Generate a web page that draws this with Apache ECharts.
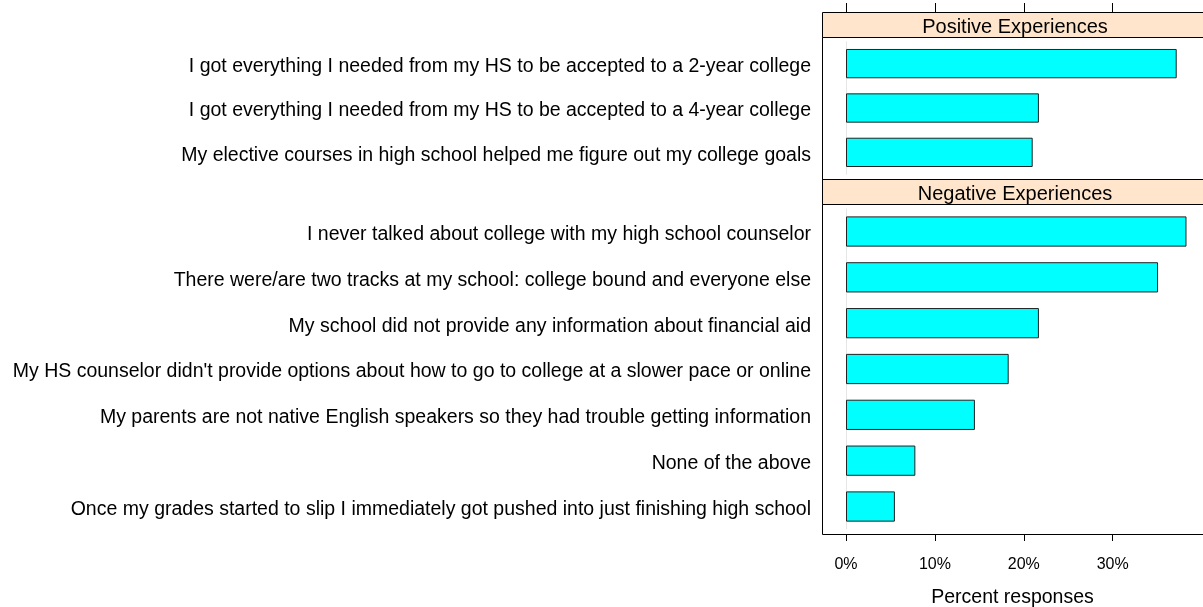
<!DOCTYPE html>
<html>
<head>
<meta charset="utf-8">
<script src="https://cdn.jsdelivr.net/npm/echarts@6/dist/echarts.min.js"></script>
<style>
html,body{margin:0;padding:0;background:#fff;}
#main{width:1203px;height:607px;}
</style>
</head>
<body>
<div id="main"></div>
<script>
// data
var posCats = [
	'I got everything I needed from my HS to be accepted to a 2-year college',
	'I got everything I needed from my HS to be accepted to a 4-year college',
	'My elective courses in high school helped me figure out my college goals'
];
var posVals = [37.2, 21.7, 21.0];
var negCats = [
	'I never talked about college with my high school counselor',
	'There were/are two tracks at my school: college bound and everyone else',
	'My school did not provide any information about financial aid',
	"My HS counselor didn't provide options about how to go to college at a slower pace or online",
	'My parents are not native English speakers so they had trouble getting information',
	'None of the above',
	'Once my grades started to slip I immediately got pushed into just finishing high school'
];
var negVals = [38.3, 35.1, 21.7, 18.3, 14.5, 7.8, 5.5];
var xTicks = [0, 10, 20, 30];
var stripNames = ['Positive Experiences', 'Negative Experiences'];

// layout (lattice style panels, right side cut off by the picture edge)
var panelL = 822, panelR = 1208, gridR = 1203;
var pxPer = 8.89;
var xMin = -2.7, xMax = xMin + (gridR - panelL) / pxPer;
var p1 = {top: 37, bot: 179}, s1 = {top: 12, bot: 37};
var p2 = {top: 204, bot: 534}, s2 = {top: 179, bot: 204};
// lattice puts factor levels at 1..n with limits 0.4 .. n+0.6
function inner(p, n){
	var u = (p.bot - p.top) / (n + 0.2);
	return {top: p.top + 0.1 * u, height: n * u};
}
var g1 = inner(p1, posCats.length);
var g2 = inner(p2, negCats.length);

var font = 'Liberation Sans, Arial, sans-serif';
var myChart = echarts.init(document.getElementById('main'));

function yAx(idx, cats){
	return {
		type: 'category', gridIndex: idx, data: cats, inverse: true,
		axisLine: {show: false}, axisTick: {show: false},
		// label sits a little below the bar centre, like the R device does
		axisLabel: {color: '#000', fontSize: 19.5, fontFamily: font, margin: 11,
			verticalAlign: 'top', lineHeight: 6}
	};
}
function barSeries(idx, vals){
	return {
		type: 'bar', xAxisIndex: idx, yAxisIndex: idx, data: vals,
		barWidth: '66%', silent: true,
		itemStyle: {color: '#00ffff', borderColor: '#222', borderWidth: 1},
		markLine: {
			silent: true, symbol: 'none', label: {show: false},
			lineStyle: {color: '#e6e6e6', type: 'solid', width: 1},
			data: [{xAxis: 0}], z: 1
		},
		z: 3
	};
}
function panelRect(p){
	return {type: 'rect', shape: {x: panelL + 0.5, y: p.top + 0.5, width: panelR - panelL, height: p.bot - p.top},
		style: {fill: 'none', stroke: '#000', lineWidth: 1}, z: 10};
}
function stripRect(s, name){
	return [
		{type: 'rect', shape: {x: panelL + 0.5, y: s.top + 0.5, width: panelR - panelL, height: s.bot - s.top},
			style: {fill: '#ffe5cc', stroke: '#000', lineWidth: 1}, z: 9},
		{type: 'text', x: (panelL + panelR) / 2, y: (s.top + s.bot) / 2 + 3,
			style: {text: name, fill: '#000', font: '20px ' + font, align: 'center', verticalAlign: 'middle'}, z: 11}
	];
}

option = {
	animation: false,
	backgroundColor: '#fff',
	grid: [
		{left: panelL, width: gridR - panelL, top: g1.top, height: g1.height, containLabel: false, outerBoundsMode: 'none'},
		{left: panelL, width: gridR - panelL, top: g2.top, height: g2.height, containLabel: false, outerBoundsMode: 'none'}
	],
	xAxis: [
		{
			type: 'value', gridIndex: 0, position: 'top', min: xMin, max: xMax,
			offset: g1.top - s1.top,
			axisLine: {show: false}, splitLine: {show: false},
			axisTick: {show: true, length: 9, lineStyle: {color: '#000'}, customValues: xTicks},
			axisLabel: {show: false}
		},
		{
			type: 'value', gridIndex: 1, position: 'bottom', min: xMin, max: xMax,
			offset: p2.bot - (g2.top + g2.height),
			axisLine: {show: false}, splitLine: {show: false},
			axisTick: {show: true, length: 7, lineStyle: {color: '#000'}, customValues: xTicks},
			axisLabel: {
				color: '#000', fontSize: 16, fontFamily: font, margin: 23, customValues: xTicks,
				formatter: function(v){ return v + '%'; }
			},
			name: 'Percent responses', nameLocation: 'middle', nameGap: 54,
			nameTextStyle: {color: '#000', fontSize: 19.5, fontFamily: font}
		}
	],
	yAxis: [yAx(0, posCats), yAx(1, negCats)],
	series: [barSeries(0, posVals), barSeries(1, negVals)],
	graphic: [panelRect(p1), panelRect(p2)]
		.concat(stripRect(s1, stripNames[0]))
		.concat(stripRect(s2, stripNames[1]))
};
myChart.setOption(option);
</script>
</body>
</html>
